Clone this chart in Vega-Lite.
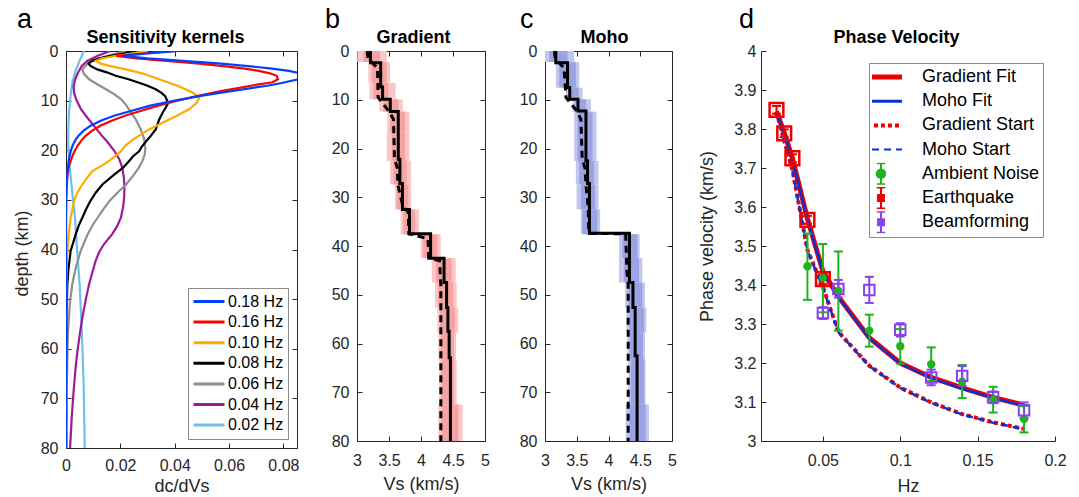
{
  "$schema": "https://vega.github.io/schema/vega-lite/v6.json",
  "padding": {"left": 13, "top": 6, "right": 5, "bottom": 5},
  "background": "white",
  "spacing": 60,
  "bounds": "flush",
  "resolve": {"scale": {"color": "independent"}, "legend": {"color": "independent"}},
  "config": {
    "font": "Liberation Sans",
    "view": {"stroke": null},
    "axis": {"grid": false, "tickSize": -5, "tickColor": "#262626", "domainColor": "#262626", "labelColor": "#262626", "labelFontSize": 16, "titleColor": "#262626", "titleFontSize": 18, "titleFontWeight": "normal", "labelFlush": false, "labelOverlap": false, "zindex": 1},
    "axisLeft": {"labelPadding": 13},
    "axisBottom": {"labelPadding": 29, "labelBaseline": "alphabetic"},
    "legend": {"labelFont": "Liberation Sans", "labelColor": "#000000", "strokeColor": "#8c8c8c", "fillColor": "#ffffff"},
    "title": {"font": "Liberation Sans", "color": "#000000", "fontWeight": "normal", "fontSize": 27, "anchor": "start", "frame": "group", "baseline": "alphabetic", "offset": 0, "dy": 10}
  },
  "datasets": {
    "kern": [
      {"freq":"0.02 Hz","d":0,"k":0.0066},{"freq":"0.02 Hz","d":2,"k":0.005},{"freq":"0.02 Hz","d":4,"k":0.0035},{"freq":"0.02 Hz","d":6,"k":0.0025},{"freq":"0.02 Hz","d":8,"k":0.0019},{"freq":"0.02 Hz","d":10,"k":0.0015},{"freq":"0.02 Hz","d":12.4,"k":0.0011},{"freq":"0.02 Hz","d":15,"k":0.0009},{"freq":"0.02 Hz","d":18,"k":0.0008},{"freq":"0.02 Hz","d":20.2,"k":0.0009},{"freq":"0.02 Hz","d":23,"k":0.0013},{"freq":"0.02 Hz","d":26.9,"k":0.002},{"freq":"0.02 Hz","d":30,"k":0.0026},{"freq":"0.02 Hz","d":33.6,"k":0.0033},{"freq":"0.02 Hz","d":37,"k":0.0037},{"freq":"0.02 Hz","d":40.3,"k":0.0041},{"freq":"0.02 Hz","d":47,"k":0.005},{"freq":"0.02 Hz","d":53.8,"k":0.0056},{"freq":"0.02 Hz","d":60.5,"k":0.0061},{"freq":"0.02 Hz","d":67.2,"k":0.0065},{"freq":"0.02 Hz","d":73.9,"k":0.0067},{"freq":"0.02 Hz","d":80,"k":0.0069},
      {"freq":"0.04 Hz","d":0,"k":0.0162},{"freq":"0.04 Hz","d":1,"k":0.0115},{"freq":"0.04 Hz","d":2,"k":0.0078},{"freq":"0.04 Hz","d":3,"k":0.0058},{"freq":"0.04 Hz","d":4.6,"k":0.0042},{"freq":"0.04 Hz","d":6,"k":0.0032},{"freq":"0.04 Hz","d":7.3,"k":0.0028},{"freq":"0.04 Hz","d":8.5,"k":0.003},{"freq":"0.04 Hz","d":10,"k":0.0039},{"freq":"0.04 Hz","d":11.7,"k":0.0055},{"freq":"0.04 Hz","d":13.4,"k":0.0078},{"freq":"0.04 Hz","d":15,"k":0.0102},{"freq":"0.04 Hz","d":16.8,"k":0.0128},{"freq":"0.04 Hz","d":18.5,"k":0.0155},{"freq":"0.04 Hz","d":20.2,"k":0.0179},{"freq":"0.04 Hz","d":21.8,"k":0.0196},{"freq":"0.04 Hz","d":23.5,"k":0.0207},{"freq":"0.04 Hz","d":25.5,"k":0.0213},{"freq":"0.04 Hz","d":27.5,"k":0.0215},{"freq":"0.04 Hz","d":29.5,"k":0.0214},{"freq":"0.04 Hz","d":31.5,"k":0.021},{"freq":"0.04 Hz","d":33.6,"k":0.0202},{"freq":"0.04 Hz","d":35.3,"k":0.0188},{"freq":"0.04 Hz","d":36.9,"k":0.017},{"freq":"0.04 Hz","d":38.9,"k":0.014},{"freq":"0.04 Hz","d":40.5,"k":0.0122},{"freq":"0.04 Hz","d":42.3,"k":0.0109},{"freq":"0.04 Hz","d":45,"k":0.0095},{"freq":"0.04 Hz","d":47,"k":0.0085},{"freq":"0.04 Hz","d":50,"k":0.0073},{"freq":"0.04 Hz","d":53.8,"k":0.006},{"freq":"0.04 Hz","d":57,"k":0.0051},{"freq":"0.04 Hz","d":60.5,"k":0.0042},{"freq":"0.04 Hz","d":64,"k":0.0035},{"freq":"0.04 Hz","d":67.2,"k":0.003},{"freq":"0.04 Hz","d":70,"k":0.0026},{"freq":"0.04 Hz","d":73.9,"k":0.0021},{"freq":"0.04 Hz","d":77,"k":0.0018},{"freq":"0.04 Hz","d":80,"k":0.0015},
      {"freq":"0.06 Hz","d":0,"k":0.022},{"freq":"0.06 Hz","d":0.7,"k":0.017},{"freq":"0.06 Hz","d":1.5,"k":0.012},{"freq":"0.06 Hz","d":2.5,"k":0.008},{"freq":"0.06 Hz","d":3.7,"k":0.006},{"freq":"0.06 Hz","d":4.5,"k":0.0065},{"freq":"0.06 Hz","d":5.7,"k":0.0085},{"freq":"0.06 Hz","d":6.7,"k":0.0115},{"freq":"0.06 Hz","d":7.7,"k":0.0147},{"freq":"0.06 Hz","d":8.7,"k":0.0177},{"freq":"0.06 Hz","d":9.7,"k":0.0202},{"freq":"0.06 Hz","d":10.8,"k":0.022},{"freq":"0.06 Hz","d":11.8,"k":0.0232},{"freq":"0.06 Hz","d":13.8,"k":0.0257},{"freq":"0.06 Hz","d":15.8,"k":0.0275},{"freq":"0.06 Hz","d":17.8,"k":0.0288},{"freq":"0.06 Hz","d":19.8,"k":0.0292},{"freq":"0.06 Hz","d":21,"k":0.0289},{"freq":"0.06 Hz","d":22.2,"k":0.0281},{"freq":"0.06 Hz","d":23.5,"k":0.0268},{"freq":"0.06 Hz","d":24.9,"k":0.025},{"freq":"0.06 Hz","d":26.9,"k":0.0221},{"freq":"0.06 Hz","d":28.5,"k":0.019},{"freq":"0.06 Hz","d":30.2,"k":0.016},{"freq":"0.06 Hz","d":32,"k":0.0136},{"freq":"0.06 Hz","d":33.6,"k":0.0116},{"freq":"0.06 Hz","d":35.2,"k":0.0097},{"freq":"0.06 Hz","d":36.9,"k":0.008},{"freq":"0.06 Hz","d":40.3,"k":0.0054},{"freq":"0.06 Hz","d":43.7,"k":0.0036},{"freq":"0.06 Hz","d":47,"k":0.0023},{"freq":"0.06 Hz","d":50.4,"k":0.0015},{"freq":"0.06 Hz","d":57,"k":0.0007},{"freq":"0.06 Hz","d":67,"k":0.0003},{"freq":"0.06 Hz","d":80,"k":0.0002},
      {"freq":"0.08 Hz","d":0,"k":0.0257},{"freq":"0.08 Hz","d":0.5,"k":0.021},{"freq":"0.08 Hz","d":1,"k":0.016},{"freq":"0.08 Hz","d":1.5,"k":0.012},{"freq":"0.08 Hz","d":2,"k":0.0095},{"freq":"0.08 Hz","d":2.5,"k":0.0083},{"freq":"0.08 Hz","d":3,"k":0.009},{"freq":"0.08 Hz","d":3.7,"k":0.0115},{"freq":"0.08 Hz","d":4.3,"k":0.015},{"freq":"0.08 Hz","d":5,"k":0.0183},{"freq":"0.08 Hz","d":5.7,"k":0.023},{"freq":"0.08 Hz","d":6.4,"k":0.0269},{"freq":"0.08 Hz","d":7,"k":0.03},{"freq":"0.08 Hz","d":7.7,"k":0.033},{"freq":"0.08 Hz","d":8.4,"k":0.035},{"freq":"0.08 Hz","d":9.1,"k":0.0365},{"freq":"0.08 Hz","d":10,"k":0.0372},{"freq":"0.08 Hz","d":10.7,"k":0.0374},{"freq":"0.08 Hz","d":11.5,"k":0.0366},{"freq":"0.08 Hz","d":12.4,"k":0.0356},{"freq":"0.08 Hz","d":13.8,"k":0.0343},{"freq":"0.08 Hz","d":15.8,"k":0.033},{"freq":"0.08 Hz","d":17.1,"k":0.0312},{"freq":"0.08 Hz","d":18,"k":0.0298},{"freq":"0.08 Hz","d":19.2,"k":0.028},{"freq":"0.08 Hz","d":20.2,"k":0.0269},{"freq":"0.08 Hz","d":21.2,"k":0.0247},{"freq":"0.08 Hz","d":22.3,"k":0.023},{"freq":"0.08 Hz","d":23.5,"k":0.021},{"freq":"0.08 Hz","d":25,"k":0.0175},{"freq":"0.08 Hz","d":26.9,"k":0.0134},{"freq":"0.08 Hz","d":28.5,"k":0.011},{"freq":"0.08 Hz","d":30.2,"k":0.009},{"freq":"0.08 Hz","d":32,"k":0.0073},{"freq":"0.08 Hz","d":33.6,"k":0.006},{"freq":"0.08 Hz","d":35,"k":0.0048},{"freq":"0.08 Hz","d":36.9,"k":0.0036},{"freq":"0.08 Hz","d":40.3,"k":0.0017},{"freq":"0.08 Hz","d":44,"k":0.0009},{"freq":"0.08 Hz","d":47,"k":0.0005},{"freq":"0.08 Hz","d":53,"k":0.0002},{"freq":"0.08 Hz","d":60,"k":0.0001},{"freq":"0.08 Hz","d":70,"k":0},{"freq":"0.08 Hz","d":80,"k":0},
      {"freq":"0.10 Hz","d":0,"k":0.03},{"freq":"0.10 Hz","d":0.5,"k":0.024},{"freq":"0.10 Hz","d":1,"k":0.018},{"freq":"0.10 Hz","d":1.5,"k":0.013},{"freq":"0.10 Hz","d":2,"k":0.011},{"freq":"0.10 Hz","d":2.5,"k":0.0125},{"freq":"0.10 Hz","d":3,"k":0.016},{"freq":"0.10 Hz","d":3.7,"k":0.022},{"freq":"0.10 Hz","d":4.5,"k":0.028},{"freq":"0.10 Hz","d":5.7,"k":0.0343},{"freq":"0.10 Hz","d":7,"k":0.041},{"freq":"0.10 Hz","d":7.7,"k":0.044},{"freq":"0.10 Hz","d":8.5,"k":0.047},{"freq":"0.10 Hz","d":9.5,"k":0.049},{"freq":"0.10 Hz","d":10.5,"k":0.048},{"freq":"0.10 Hz","d":11.7,"k":0.0454},{"freq":"0.10 Hz","d":13,"k":0.041},{"freq":"0.10 Hz","d":13.8,"k":0.038},{"freq":"0.10 Hz","d":15,"k":0.0335},{"freq":"0.10 Hz","d":15.8,"k":0.0306},{"freq":"0.10 Hz","d":17,"k":0.027},{"freq":"0.10 Hz","d":17.9,"k":0.0245},{"freq":"0.10 Hz","d":19,"k":0.022},{"freq":"0.10 Hz","d":20.2,"k":0.0202},{"freq":"0.10 Hz","d":21,"k":0.0185},{"freq":"0.10 Hz","d":22,"k":0.0162},{"freq":"0.10 Hz","d":23,"k":0.0135},{"freq":"0.10 Hz","d":24.2,"k":0.0097},{"freq":"0.10 Hz","d":25.5,"k":0.0078},{"freq":"0.10 Hz","d":26.9,"k":0.006},{"freq":"0.10 Hz","d":28.5,"k":0.0042},{"freq":"0.10 Hz","d":30.2,"k":0.003},{"freq":"0.10 Hz","d":33.6,"k":0.0017},{"freq":"0.10 Hz","d":37,"k":0.001},{"freq":"0.10 Hz","d":40.3,"k":0.0005},{"freq":"0.10 Hz","d":45,"k":0.0002},{"freq":"0.10 Hz","d":50,"k":0.0001},{"freq":"0.10 Hz","d":55,"k":0},{"freq":"0.10 Hz","d":80,"k":0},
      {"freq":"0.16 Hz","d":0,"k":0.0399},{"freq":"0.16 Hz","d":0.5,"k":0.028},{"freq":"0.16 Hz","d":1,"k":0.0185},{"freq":"0.16 Hz","d":1.5,"k":0.026},{"freq":"0.16 Hz","d":2,"k":0.037},{"freq":"0.16 Hz","d":2.5,"k":0.048},{"freq":"0.16 Hz","d":3,"k":0.057},{"freq":"0.16 Hz","d":3.5,"k":0.065},{"freq":"0.16 Hz","d":4,"k":0.071},{"freq":"0.16 Hz","d":4.5,"k":0.075},{"freq":"0.16 Hz","d":5,"k":0.0775},{"freq":"0.16 Hz","d":5.7,"k":0.078},{"freq":"0.16 Hz","d":6.3,"k":0.076},{"freq":"0.16 Hz","d":7,"k":0.068},{"freq":"0.16 Hz","d":8,"k":0.058},{"freq":"0.16 Hz","d":9,"k":0.049},{"freq":"0.16 Hz","d":10,"k":0.041},{"freq":"0.16 Hz","d":11,"k":0.034},{"freq":"0.16 Hz","d":12,"k":0.028},{"freq":"0.16 Hz","d":13,"k":0.022},{"freq":"0.16 Hz","d":14,"k":0.017},{"freq":"0.16 Hz","d":15,"k":0.0128},{"freq":"0.16 Hz","d":16,"k":0.0098},{"freq":"0.16 Hz","d":17,"k":0.0074},{"freq":"0.16 Hz","d":18,"k":0.0057},{"freq":"0.16 Hz","d":19,"k":0.0044},{"freq":"0.16 Hz","d":20,"k":0.0033},{"freq":"0.16 Hz","d":21,"k":0.0025},{"freq":"0.16 Hz","d":22,"k":0.0018},{"freq":"0.16 Hz","d":23,"k":0.0012},{"freq":"0.16 Hz","d":25,"k":0.0005},{"freq":"0.16 Hz","d":27,"k":0.0002},{"freq":"0.16 Hz","d":30,"k":0},{"freq":"0.16 Hz","d":80,"k":0},
      {"freq":"0.18 Hz","d":0,"k":0.0415},{"freq":"0.18 Hz","d":0.5,"k":0.03},{"freq":"0.18 Hz","d":1,"k":0.021},{"freq":"0.18 Hz","d":1.5,"k":0.03},{"freq":"0.18 Hz","d":2,"k":0.043},{"freq":"0.18 Hz","d":2.5,"k":0.056},{"freq":"0.18 Hz","d":3,"k":0.066},{"freq":"0.18 Hz","d":3.5,"k":0.075},{"freq":"0.18 Hz","d":4,"k":0.082},{"freq":"0.18 Hz","d":4.5,"k":0.086},{"freq":"0.18 Hz","d":5,"k":0.088},{"freq":"0.18 Hz","d":5.5,"k":0.087},{"freq":"0.18 Hz","d":6,"k":0.083},{"freq":"0.18 Hz","d":6.5,"k":0.079},{"freq":"0.18 Hz","d":7,"k":0.074},{"freq":"0.18 Hz","d":8,"k":0.062},{"freq":"0.18 Hz","d":9,"k":0.05},{"freq":"0.18 Hz","d":10,"k":0.04},{"freq":"0.18 Hz","d":11,"k":0.031},{"freq":"0.18 Hz","d":12,"k":0.0245},{"freq":"0.18 Hz","d":13,"k":0.018},{"freq":"0.18 Hz","d":14,"k":0.013},{"freq":"0.18 Hz","d":15,"k":0.0092},{"freq":"0.18 Hz","d":16,"k":0.0066},{"freq":"0.18 Hz","d":17,"k":0.0047},{"freq":"0.18 Hz","d":18,"k":0.0034},{"freq":"0.18 Hz","d":19,"k":0.0025},{"freq":"0.18 Hz","d":20,"k":0.0018},{"freq":"0.18 Hz","d":22,"k":0.001},{"freq":"0.18 Hz","d":24,"k":0.0006},{"freq":"0.18 Hz","d":27,"k":0.0003},{"freq":"0.18 Hz","d":30,"k":0.0001},{"freq":"0.18 Hz","d":35,"k":0},{"freq":"0.18 Hz","d":80,"k":0}
    ],
    "gradSolid": [
      {"i":0,"d":0,"vs":3.21},{"i":1,"d":2.4,"vs":3.21},{"i":2,"d":2.4,"vs":3.37},{"i":3,"d":7.4,"vs":3.37},{"i":4,"d":7.4,"vs":3.4},{"i":5,"d":9.9,"vs":3.4},{"i":6,"d":9.9,"vs":3.52},{"i":7,"d":12.4,"vs":3.52},{"i":8,"d":12.4,"vs":3.645},{"i":9,"d":22.2,"vs":3.645},{"i":10,"d":22.2,"vs":3.67},{"i":11,"d":27.2,"vs":3.67},{"i":12,"d":27.2,"vs":3.71},{"i":13,"d":32.5,"vs":3.71},{"i":14,"d":32.5,"vs":3.82},{"i":15,"d":37.5,"vs":3.82},{"i":16,"d":37.5,"vs":4.15},{"i":17,"d":42.5,"vs":4.15},{"i":18,"d":42.5,"vs":4.36},{"i":19,"d":47.5,"vs":4.36},{"i":20,"d":47.5,"vs":4.4},{"i":21,"d":52.6,"vs":4.4},{"i":22,"d":52.6,"vs":4.42},{"i":23,"d":57.5,"vs":4.42},{"i":24,"d":57.5,"vs":4.44},{"i":25,"d":62.9,"vs":4.44},{"i":26,"d":62.9,"vs":4.46},{"i":27,"d":80,"vs":4.46}
    ],
    "gradStart": [
      {"i":0,"d":0,"vs":3.16},{"i":1,"d":1.5,"vs":3.17},{"i":2,"d":3.5,"vs":3.32},{"i":3,"d":9.5,"vs":3.33},{"i":4,"d":12.4,"vs":3.5},{"i":5,"d":14,"vs":3.57},{"i":6,"d":22,"vs":3.585},{"i":7,"d":24,"vs":3.63},{"i":8,"d":27.5,"vs":3.64},{"i":9,"d":32,"vs":3.72},{"i":10,"d":33,"vs":3.8},{"i":11,"d":37.5,"vs":3.81},{"i":12,"d":38.5,"vs":4.11},{"i":13,"d":42.5,"vs":4.12},{"i":14,"d":43,"vs":4.29},{"i":15,"d":48,"vs":4.31},{"i":16,"d":80,"vs":4.31}
    ],
    "gradBands": [
      {"t":0,"b":2.26,"lo":3.005,"hi":3.464,"lo2":3.099,"hi2":3.359},
      {"t":2.26,"b":6.5,"lo":3.177,"hi":3.516,"lo2":3.229,"hi2":3.464},
      {"t":6.5,"b":9.91,"lo":3.193,"hi":3.604,"lo2":3.255,"hi2":3.49},
      {"t":9.91,"b":12.44,"lo":3.349,"hi":3.714,"lo2":3.411,"hi2":3.646},
      {"t":12.44,"b":16.75,"lo":3.474,"hi":3.818,"lo2":3.516,"hi2":3.75},
      {"t":16.75,"b":22.56,"lo":3.464,"hi":3.818,"lo2":3.542,"hi2":3.75},
      {"t":22.56,"b":27.35,"lo":3.516,"hi":3.844,"lo2":3.568,"hi2":3.776},
      {"t":27.35,"b":32.48,"lo":3.594,"hi":3.844,"lo2":3.62,"hi2":3.802},
      {"t":32.48,"b":37.6,"lo":3.682,"hi":3.969,"lo2":3.724,"hi2":3.906},
      {"t":37.6,"b":42.5,"lo":3.995,"hi":4.307,"lo2":4.036,"hi2":4.255},
      {"t":42.5,"b":47.5,"lo":4.167,"hi":4.542,"lo2":4.234,"hi2":4.479},
      {"t":47.5,"b":52.6,"lo":4.219,"hi":4.557,"lo2":4.271,"hi2":4.505},
      {"t":52.6,"b":57.8,"lo":4.255,"hi":4.583,"lo2":4.297,"hi2":4.531},
      {"t":57.8,"b":63.2,"lo":4.271,"hi":4.547,"lo2":4.307,"hi2":4.516},
      {"t":63.2,"b":72.5,"lo":4.286,"hi":4.557,"lo2":4.323,"hi2":4.516},
      {"t":72.5,"b":80,"lo":4.271,"hi":4.651,"lo2":4.323,"hi2":4.583}
    ],
    "mohoSolid": [
      {"i":0,"d":0,"vs":3.17},{"i":1,"d":2.4,"vs":3.17},{"i":2,"d":2.4,"vs":3.355},{"i":3,"d":7.5,"vs":3.355},{"i":4,"d":7.5,"vs":3.39},{"i":5,"d":9.9,"vs":3.39},{"i":6,"d":9.9,"vs":3.52},{"i":7,"d":12.3,"vs":3.52},{"i":8,"d":12.3,"vs":3.645},{"i":9,"d":22.5,"vs":3.645},{"i":10,"d":22.5,"vs":3.67},{"i":11,"d":27.2,"vs":3.67},{"i":12,"d":27.2,"vs":3.7},{"i":13,"d":37.4,"vs":3.7},{"i":14,"d":37.4,"vs":4.33},{"i":15,"d":47.5,"vs":4.33},{"i":16,"d":47.5,"vs":4.385},{"i":17,"d":52.6,"vs":4.385},{"i":18,"d":52.6,"vs":4.42},{"i":19,"d":62.5,"vs":4.42},{"i":20,"d":62.5,"vs":4.45},{"i":21,"d":80,"vs":4.45}
    ],
    "mohoStart": [
      {"i":0,"d":0,"vs":3.15},{"i":1,"d":1.5,"vs":3.16},{"i":2,"d":3.5,"vs":3.3},{"i":3,"d":9.5,"vs":3.33},{"i":4,"d":12.3,"vs":3.5},{"i":5,"d":14,"vs":3.565},{"i":6,"d":22,"vs":3.585},{"i":7,"d":24,"vs":3.63},{"i":8,"d":27.5,"vs":3.645},{"i":9,"d":32,"vs":3.68},{"i":10,"d":37.4,"vs":3.69},{"i":11,"d":37.5,"vs":4.27},{"i":12,"d":45,"vs":4.29},{"i":13,"d":48,"vs":4.31},{"i":14,"d":80,"vs":4.31}
    ],
    "mohoBands": [
      {"t":0,"b":2.26,"lo":3.0,"hi":3.46,"lo2":3.068,"hi2":3.355},
      {"t":2.26,"b":7.52,"lo":3.172,"hi":3.538,"lo2":3.225,"hi2":3.486},
      {"t":7.52,"b":9.91,"lo":3.329,"hi":3.591,"lo2":3.371,"hi2":3.528},
      {"t":9.91,"b":12.44,"lo":3.434,"hi":3.722,"lo2":3.476,"hi2":3.643},
      {"t":12.44,"b":22.56,"lo":3.46,"hi":3.811,"lo2":3.512,"hi2":3.748},
      {"t":22.56,"b":27.35,"lo":3.486,"hi":3.842,"lo2":3.538,"hi2":3.774},
      {"t":27.35,"b":32.48,"lo":3.497,"hi":3.842,"lo2":3.565,"hi2":3.79},
      {"t":32.48,"b":37.6,"lo":3.565,"hi":3.868,"lo2":3.591,"hi2":3.826},
      {"t":37.6,"b":42.5,"lo":4.166,"hi":4.491,"lo2":4.219,"hi2":4.454},
      {"t":42.5,"b":47.5,"lo":4.166,"hi":4.533,"lo2":4.245,"hi2":4.48},
      {"t":47.5,"b":52.6,"lo":4.261,"hi":4.575,"lo2":4.312,"hi2":4.533},
      {"t":52.6,"b":57.8,"lo":4.281,"hi":4.596,"lo2":4.333,"hi2":4.559},
      {"t":57.8,"b":63.2,"lo":4.297,"hi":4.575,"lo2":4.339,"hi2":4.543},
      {"t":63.2,"b":72.5,"lo":4.312,"hi":4.585,"lo2":4.35,"hi2":4.559},
      {"t":72.5,"b":80,"lo":4.271,"hi":4.637,"lo2":4.333,"hi2":4.585}
    ],
    "curves": [
      {"series":"Gradient Start","f":0.02,"v":3.843},{"series":"Gradient Start","f":0.025,"v":3.77},{"series":"Gradient Start","f":0.0303,"v":3.695},{"series":"Gradient Start","f":0.04,"v":3.49},{"series":"Gradient Start","f":0.05,"v":3.395},{"series":"Gradient Start","f":0.06,"v":3.28},{"series":"Gradient Start","f":0.08,"v":3.193},{"series":"Gradient Start","f":0.1,"v":3.137},{"series":"Gradient Start","f":0.12,"v":3.099},{"series":"Gradient Start","f":0.14,"v":3.069},{"series":"Gradient Start","f":0.16,"v":3.048},{"series":"Gradient Start","f":0.18,"v":3.031},
      {"series":"Moho Start","f":0.02,"v":3.842},{"series":"Moho Start","f":0.025,"v":3.769},{"series":"Moho Start","f":0.0303,"v":3.694},{"series":"Moho Start","f":0.04,"v":3.489},{"series":"Moho Start","f":0.05,"v":3.393},{"series":"Moho Start","f":0.06,"v":3.279},{"series":"Moho Start","f":0.08,"v":3.192},{"series":"Moho Start","f":0.1,"v":3.136},{"series":"Moho Start","f":0.12,"v":3.098},{"series":"Moho Start","f":0.14,"v":3.068},{"series":"Moho Start","f":0.16,"v":3.047},{"series":"Moho Start","f":0.18,"v":3.03},
      {"series":"Gradient Fit","f":0.02,"v":3.845},{"series":"Gradient Fit","f":0.025,"v":3.79},{"series":"Gradient Fit","f":0.0303,"v":3.725},{"series":"Gradient Fit","f":0.04,"v":3.57},{"series":"Gradient Fit","f":0.05,"v":3.435},{"series":"Gradient Fit","f":0.06,"v":3.37},{"series":"Gradient Fit","f":0.08,"v":3.265},{"series":"Gradient Fit","f":0.1,"v":3.2},{"series":"Gradient Fit","f":0.12,"v":3.163},{"series":"Gradient Fit","f":0.14,"v":3.136},{"series":"Gradient Fit","f":0.16,"v":3.112},{"series":"Gradient Fit","f":0.18,"v":3.092},
      {"series":"Moho Fit","f":0.02,"v":3.843},{"series":"Moho Fit","f":0.025,"v":3.788},{"series":"Moho Fit","f":0.0303,"v":3.723},{"series":"Moho Fit","f":0.04,"v":3.568},{"series":"Moho Fit","f":0.05,"v":3.433},{"series":"Moho Fit","f":0.06,"v":3.368},{"series":"Moho Fit","f":0.08,"v":3.263},{"series":"Moho Fit","f":0.1,"v":3.198},{"series":"Moho Fit","f":0.12,"v":3.161},{"series":"Moho Fit","f":0.14,"v":3.134},{"series":"Moho Fit","f":0.16,"v":3.11},{"series":"Moho Fit","f":0.18,"v":3.09}
    ],
    "obs": [
      {"series":"Ambient Noise","f":0.04,"v":3.448,"lo":3.362,"hi":3.532},{"series":"Ambient Noise","f":0.05,"v":3.418,"lo":3.33,"hi":3.505},{"series":"Ambient Noise","f":0.06,"v":3.385,"lo":3.283,"hi":3.486},{"series":"Ambient Noise","f":0.08,"v":3.283,"lo":3.242,"hi":3.324},{"series":"Ambient Noise","f":0.1,"v":3.243,"lo":3.198,"hi":3.287},{"series":"Ambient Noise","f":0.12,"v":3.197,"lo":3.154,"hi":3.24},{"series":"Ambient Noise","f":0.14,"v":3.152,"lo":3.11,"hi":3.195},{"series":"Ambient Noise","f":0.16,"v":3.106,"lo":3.073,"hi":3.139},{"series":"Ambient Noise","f":0.18,"v":3.056,"lo":3.022,"hi":3.09},
      {"series":"Beamforming","f":0.05,"v":3.328,"lo":3.313,"hi":3.343},{"series":"Beamforming","f":0.06,"v":3.39,"lo":3.368,"hi":3.413},{"series":"Beamforming","f":0.08,"v":3.387,"lo":3.354,"hi":3.421},{"series":"Beamforming","f":0.1,"v":3.285,"lo":3.268,"hi":3.302},{"series":"Beamforming","f":0.12,"v":3.163,"lo":3.143,"hi":3.183},{"series":"Beamforming","f":0.14,"v":3.167,"lo":3.142,"hi":3.192},{"series":"Beamforming","f":0.16,"v":3.112,"lo":3.097,"hi":3.127},{"series":"Beamforming","f":0.18,"v":3.079,"lo":3.059,"hi":3.099},
      {"series":"Earthquake","f":0.02,"v":3.849,"lo":3.839,"hi":3.859},{"series":"Earthquake","f":0.025,"v":3.789,"lo":3.779,"hi":3.799},{"series":"Earthquake","f":0.0303,"v":3.725,"lo":3.715,"hi":3.735},{"series":"Earthquake","f":0.04,"v":3.567,"lo":3.557,"hi":3.577},{"series":"Earthquake","f":0.05,"v":3.415,"lo":3.403,"hi":3.427}
    ]
  },
  "hconcat": [
    {
      "width": 231, "height": 397,
      "title": {"text": "a", "dx": -49},
      "layer": [
        {
          "data": {"name": "kern"},
          "mark": {"type": "line", "strokeWidth": 2.2, "clip": true},
          "encoding": {
            "x": {"field": "k", "type": "quantitative", "scale": {"domain": [0, 0.085], "nice": false, "zero": false}, "axis": {"values": [0, 0.02, 0.04, 0.06, 0.08], "labelExpr": "datum.value == 0 ? '0' : format(datum.value, '.2f')", "labelPadding": 27, "title": "dc/dVs", "titleY": 43, "titleBaseline": "alphabetic"}},
            "y": {"field": "d", "type": "quantitative", "scale": {"domain": [0, 80], "reverse": true, "nice": false}, "axis": {"values": [0, 10, 20, 30, 40, 50, 60, 70, 80], "title": "depth (km)", "titleX": -39, "titleY": 202, "titleBaseline": "alphabetic", "titleAlign": "center", "titleAngle": 270}},
            "color": {"field": "freq", "type": "nominal",
              "scale": {"domain": ["0.18 Hz", "0.16 Hz", "0.10 Hz", "0.08 Hz", "0.06 Hz", "0.04 Hz", "0.02 Hz"], "range": ["#0040ff", "#ff0000", "#ffaa00", "#000000", "#8f8f8f", "#a0189c", "#6ec0ea"]},
              "legend": {"orient": "bottom-right", "offset": 9, "title": null, "symbolType": "stroke", "symbolSize": 961, "symbolStrokeWidth": 3, "labelFontSize": 16, "padding": 4, "clipHeight": 19, "rowPadding": 1.6, "labelOffset": 2, "labelExpr": "datum.label + ' '"}},
            "order": {"field": "d", "type": "quantitative"}
          }
        },
        {
          "data": {"values": [{}]},
          "mark": {"type": "point", "opacity": 0},
          "encoding": {
            "x": {"datum": 0, "type": "quantitative", "axis": {"orient": "top", "labels": false, "domain": true, "values": [0, 0.02, 0.04, 0.06, 0.08], "title": "Sensitivity kernels", "titleFontWeight": "bold", "titleFontSize": 18, "titleColor": "#000000", "titleX": 99, "titleY": -9, "titleBaseline": "alphabetic", "titleAlign": "center"}},
            "y": {"datum": 0, "type": "quantitative", "axis": {"orient": "right", "labels": false, "domain": true, "values": [0, 10, 20, 30, 40, 50, 60, 70, 80], "title": null}}
          }
        }
      ],
      "resolve": {"axis": {"x": "independent", "y": "independent"}}
    },
    {
      "width": 128, "height": 390,
      "title": {"text": "b", "dx": -32},
      "layer": [
        {
          "data": {"name": "gradBands"},
          "mark": {"type": "rect", "color": "#fdc6c6"},
          "encoding": {
            "x": {"field": "lo", "type": "quantitative", "scale": {"domain": [3, 5], "nice": false, "zero": false}, "axis": {"values": [3, 3.5, 4, 4.5, 5], "labelExpr": "format(datum.value, '~g')", "title": "Vs (km/s)", "titleY": 48.5, "titleBaseline": "alphabetic"}},
            "x2": {"field": "hi"},
            "y": {"field": "t", "type": "quantitative", "scale": {"domain": [0, 80], "reverse": true, "nice": false}, "axis": {"values": [0, 10, 20, 30, 40, 50, 60, 70, 80], "title": null}},
            "y2": {"field": "b"}
          }
        },
        {
          "data": {"name": "gradBands"},
          "mark": {"type": "rect", "color": "#f5a3a3"},
          "encoding": {
            "x": {"field": "lo2", "type": "quantitative", "axis": null},
            "x2": {"field": "hi2"},
            "y": {"field": "t", "type": "quantitative", "axis": null},
            "y2": {"field": "b"}
          }
        },
        {
          "data": {"name": "gradStart"},
          "mark": {"type": "line", "color": "#000000", "strokeWidth": 3, "strokeDash": [7, 5]},
          "encoding": {
            "x": {"field": "vs", "type": "quantitative", "axis": null},
            "y": {"field": "d", "type": "quantitative", "axis": null},
            "order": {"field": "i", "type": "quantitative"}
          }
        },
        {
          "data": {"name": "gradSolid"},
          "mark": {"type": "line", "color": "#000000", "strokeWidth": 3},
          "encoding": {
            "x": {"field": "vs", "type": "quantitative", "axis": null},
            "y": {"field": "d", "type": "quantitative", "axis": null},
            "order": {"field": "i", "type": "quantitative"}
          }
        },
        {
          "data": {"values": [{}]},
          "mark": {"type": "point", "opacity": 0},
          "encoding": {
            "x": {"datum": 4, "type": "quantitative", "axis": {"orient": "top", "labels": false, "domain": true, "values": [3, 3.5, 4, 4.5, 5], "title": "Gradient", "titleFontWeight": "bold", "titleFontSize": 18, "titleColor": "#000000", "titleX": 56, "titleY": -9, "titleBaseline": "alphabetic", "titleAlign": "center"}},
            "y": {"datum": 40, "type": "quantitative", "axis": {"orient": "right", "labels": false, "domain": true, "values": [0, 10, 20, 30, 40, 50, 60, 70, 80], "title": null}}
          }
        }
      ],
      "resolve": {"axis": {"x": "independent", "y": "independent"}}
    },
    {
      "width": 127, "height": 390,
      "title": {"text": "c", "dx": -25},
      "layer": [
        {
          "data": {"name": "mohoBands"},
          "mark": {"type": "rect", "color": "#c3c7ef"},
          "encoding": {
            "x": {"field": "lo", "type": "quantitative", "scale": {"domain": [3, 5], "nice": false, "zero": false}, "axis": {"values": [3, 3.5, 4, 4.5, 5], "labelExpr": "format(datum.value, '~g')", "title": "Vs (km/s)", "titleY": 48.5, "titleBaseline": "alphabetic"}},
            "x2": {"field": "hi"},
            "y": {"field": "t", "type": "quantitative", "scale": {"domain": [0, 80], "reverse": true, "nice": false}, "axis": {"values": [0, 10, 20, 30, 40, 50, 60, 70, 80], "title": null}},
            "y2": {"field": "b"}
          }
        },
        {
          "data": {"name": "mohoBands"},
          "mark": {"type": "rect", "color": "#9ba3e4"},
          "encoding": {
            "x": {"field": "lo2", "type": "quantitative", "axis": null},
            "x2": {"field": "hi2"},
            "y": {"field": "t", "type": "quantitative", "axis": null},
            "y2": {"field": "b"}
          }
        },
        {
          "data": {"name": "mohoStart"},
          "mark": {"type": "line", "color": "#000000", "strokeWidth": 3, "strokeDash": [7, 5]},
          "encoding": {
            "x": {"field": "vs", "type": "quantitative", "axis": null},
            "y": {"field": "d", "type": "quantitative", "axis": null},
            "order": {"field": "i", "type": "quantitative"}
          }
        },
        {
          "data": {"name": "mohoSolid"},
          "mark": {"type": "line", "color": "#000000", "strokeWidth": 3},
          "encoding": {
            "x": {"field": "vs", "type": "quantitative", "axis": null},
            "y": {"field": "d", "type": "quantitative", "axis": null},
            "order": {"field": "i", "type": "quantitative"}
          }
        },
        {
          "data": {"values": [{}]},
          "mark": {"type": "point", "opacity": 0},
          "encoding": {
            "x": {"datum": 4, "type": "quantitative", "axis": {"orient": "top", "labels": false, "domain": true, "values": [3, 3.5, 4, 4.5, 5], "title": "Moho", "titleFontWeight": "bold", "titleFontSize": 18, "titleColor": "#000000", "titleX": 59, "titleY": -9, "titleBaseline": "alphabetic", "titleAlign": "center"}},
            "y": {"datum": 40, "type": "quantitative", "axis": {"orient": "right", "labels": false, "domain": true, "values": [0, 10, 20, 30, 40, 50, 60, 70, 80], "title": null}}
          }
        }
      ],
      "resolve": {"axis": {"x": "independent", "y": "independent"}}
    },
    {
      "width": 323, "height": 390,
      "title": {"text": "d", "dx": 7},
      "layer": [
        {
          "data": {"name": "curves"},
          "transform": [{"filter": "datum.series === 'Gradient Start'"}],
          "mark": {"type": "line", "strokeWidth": 4, "strokeDash": [4, 3]},
          "encoding": {
            "x": {"field": "f", "type": "quantitative", "scale": {"domain": [0.01, 0.2], "range": [29, 323], "nice": false, "zero": false}, "axis": {"values": [0.05, 0.1, 0.15, 0.2], "labelExpr": "format(datum.value, '~g')", "title": "Hz", "titleY": 50, "titleBaseline": "alphabetic", "titleX": 176}},
            "y": {"field": "v", "type": "quantitative", "scale": {"domain": [3, 4], "nice": false, "zero": false}, "axis": {"values": [3, 3.1, 3.2, 3.3, 3.4, 3.5, 3.6, 3.7, 3.8, 3.9, 4], "labelExpr": "format(datum.value, '~g')", "offset": -29, "labelPadding": 10, "title": "Phase velocity (km/s)", "titleX": -49, "titleY": 185, "titleBaseline": "alphabetic", "titleAlign": "center", "titleAngle": 270}},
            "color": {"field": "series", "type": "nominal",
              "scale": {"domain": ["Gradient Fit", "Moho Fit", "Gradient Start", "Moho Start", "Ambient Noise", "Earthquake", "Beamforming"], "range": ["#ee0000", "#0a32d2", "#ee0000", "#0a32d2", "#1db31d", "#ee0000", "#8a3ff0"]},
              "legend": {"orient": "top-right", "offset": 12, "title": "      ", "titleOrient": "right", "titlePadding": 0, "titleFontSize": 18, "symbolSize": 1764, "symbolType": "stroke", "labelFontSize": 18, "clipHeight": 22, "rowPadding": 2.2, "padding": 3, "labelOffset": 32,
                "encode": {
                  "symbols": {"update": {
                  "size": {"value": 1764},
                  "shape": {"signal": "datum.value === 'Ambient Noise' ? 'M0,-0.5L0,0.5M-0.2,-0.5L0.2,-0.5M-0.2,0.5L0.2,0.5M0.2,0A0.2,0.2,0,1,1,-0.2,0A0.2,0.2,0,1,1,0.2,0Z' : (datum.value === 'Earthquake' || datum.value === 'Beamforming') ? 'M0,-0.5L0,0.5M-0.2,-0.5L0.2,-0.5M-0.2,0.5L0.2,0.5M-0.14,-0.14L0.14,-0.14L0.14,0.14L-0.14,0.14Z' : 'stroke'"},
                  "fill": {"signal": "datum.value === 'Ambient Noise' ? '#1db31d' : datum.value === 'Beamforming' ? '#8a3ff0' : '#ee0000'"},
                  "strokeWidth": {"signal": "datum.value === 'Gradient Fit' ? 5 : datum.value === 'Gradient Start' ? 4 : datum.value === 'Moho Fit' ? 3 : 2"},
                  "strokeDash": {"signal": "datum.value === 'Gradient Start' ? [4, 3] : datum.value === 'Moho Start' ? [7, 5] : [1, 0]"},
                  "opacity": {"value": 1}
                }}}}}
          }
        },
        {
          "data": {"name": "curves"},
          "transform": [{"filter": "datum.series === 'Moho Start'"}],
          "mark": {"type": "line", "strokeWidth": 2.5, "strokeDash": [7, 5]},
          "encoding": {
            "x": {"field": "f", "type": "quantitative", "axis": null},
            "y": {"field": "v", "type": "quantitative", "axis": null},
            "color": {"field": "series", "type": "nominal", "legend": null}
          }
        },
        {
          "data": {"name": "curves"},
          "transform": [{"filter": "datum.series === 'Gradient Fit'"}],
          "mark": {"type": "line", "strokeWidth": 5},
          "encoding": {
            "x": {"field": "f", "type": "quantitative", "axis": null},
            "y": {"field": "v", "type": "quantitative", "axis": null},
            "color": {"field": "series", "type": "nominal", "legend": null}
          }
        },
        {
          "data": {"name": "curves"},
          "transform": [{"filter": "datum.series === 'Moho Fit'"}],
          "mark": {"type": "line", "strokeWidth": 2.5},
          "encoding": {
            "x": {"field": "f", "type": "quantitative", "axis": null},
            "y": {"field": "v", "type": "quantitative", "axis": null},
            "color": {"field": "series", "type": "nominal", "legend": null}
          }
        },
        {
          "data": {"name": "obs"},
          "mark": {"type": "rule", "strokeWidth": 2},
          "encoding": {
            "x": {"field": "f", "type": "quantitative", "axis": null},
            "y": {"field": "lo", "type": "quantitative", "axis": null},
            "y2": {"field": "hi"},
            "color": {"field": "series", "type": "nominal", "legend": null}
          }
        },
        {
          "data": {"name": "obs"},
          "mark": {"type": "tick", "orient": "horizontal", "size": 9, "thickness": 2, "opacity": 1},
          "encoding": {
            "x": {"field": "f", "type": "quantitative", "axis": null},
            "y": {"field": "lo", "type": "quantitative", "axis": null},
            "color": {"field": "series", "type": "nominal", "legend": null}
          }
        },
        {
          "data": {"name": "obs"},
          "mark": {"type": "tick", "orient": "horizontal", "size": 9, "thickness": 2, "opacity": 1},
          "encoding": {
            "x": {"field": "f", "type": "quantitative", "axis": null},
            "y": {"field": "hi", "type": "quantitative", "axis": null},
            "color": {"field": "series", "type": "nominal", "legend": null}
          }
        },
        {
          "data": {"name": "obs"},
          "transform": [{"filter": "datum.series === 'Ambient Noise'"}],
          "mark": {"type": "point", "shape": "circle", "filled": true, "size": 70, "opacity": 1},
          "encoding": {
            "x": {"field": "f", "type": "quantitative", "axis": null},
            "y": {"field": "v", "type": "quantitative", "axis": null},
            "color": {"field": "series", "type": "nominal", "legend": null}
          }
        },
        {
          "data": {"name": "obs"},
          "transform": [{"filter": "datum.series === 'Beamforming'"}],
          "mark": {"type": "point", "shape": "square", "filled": false, "size": 110, "strokeWidth": 2, "opacity": 1},
          "encoding": {
            "x": {"field": "f", "type": "quantitative", "axis": null},
            "y": {"field": "v", "type": "quantitative", "axis": null},
            "color": {"field": "series", "type": "nominal", "legend": null}
          }
        },
        {
          "data": {"name": "obs"},
          "transform": [{"filter": "datum.series === 'Earthquake'"}],
          "mark": {"type": "point", "shape": "square", "filled": false, "size": 190, "strokeWidth": 2.5, "opacity": 1},
          "encoding": {
            "x": {"field": "f", "type": "quantitative", "axis": null},
            "y": {"field": "v", "type": "quantitative", "axis": null},
            "color": {"field": "series", "type": "nominal", "legend": null}
          }
        },
        {
          "data": {"values": [{}]},
          "mark": {"type": "point", "opacity": 0},
          "encoding": {
            "x": {"datum": 0.1, "type": "quantitative", "axis": {"orient": "top", "labels": false, "ticks": false, "domain": false, "title": "Phase Velocity", "titleFontWeight": "bold", "titleFontSize": 18, "titleColor": "#000000", "titleX": 164, "titleY": -9, "titleBaseline": "alphabetic", "titleAlign": "center"}},
            "y": {"datum": 3.5, "type": "quantitative", "axis": null}
          }
        }
      ],
      "resolve": {"axis": {"x": "independent", "y": "independent"}}
    }
  ]
}
